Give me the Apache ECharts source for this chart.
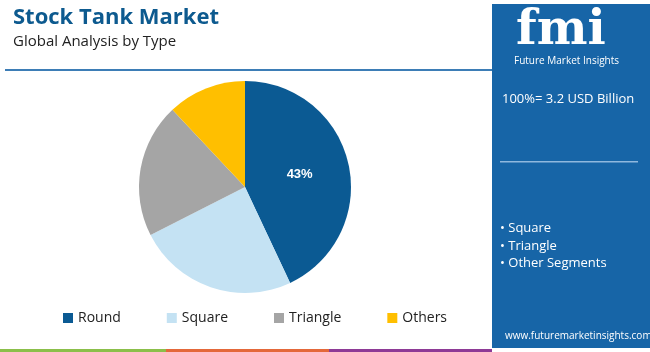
<!DOCTYPE html>
<html>
<head>
<meta charset="utf-8">
<script src="https://cdn.jsdelivr.net/npm/echarts@6/dist/echarts.min.js"></script>
<style>
  html, body { margin: 0; padding: 0; background: #fff; }
  #chart { width: 650px; height: 352px; }
</style>
</head>
<body>
<div id="chart"></div>
<script>
// 数据
var categories = ['Round', 'Square', 'Triangle', 'Others'];
var shares = [43, 24.5, 20.5, 12];
var colors = ['#0b5a93', '#c4e2f3', '#a5a5a5', '#ffbf00'];
var bullets = ['• Square', '• Triangle', '• Other Segments'];

var font = 'Open Sans';
var chart = echarts.init(document.getElementById('chart'));

var pieData = categories.map(function (name, i) {
    return {
        name: name,
        value: shares[i],
        itemStyle: {color: colors[i]},
        label: {show: i === 0}
    };
});

var option = {
    animation: false,
    title: {
        text: 'Stock Tank Market',
        subtext: 'Global Analysis by Type',
        left: 8,
        top: 2,
        itemGap: 5,
        textStyle: {fontFamily: font, fontSize: 22, fontWeight: 'bold', color: '#0d5a8f'},
        subtextStyle: {fontFamily: font, fontSize: 15, color: '#222'}
    },
    legend: {
        data: categories,
        left: 58,
        top: 306,
        itemWidth: 10,
        itemHeight: 10,
        itemGap: 46,
        icon: 'rect',
        textStyle: {fontFamily: font, fontSize: 14, color: '#222'}
    },
    series: [{
        type: 'pie',
        center: [245, 187],
        radius: 106,
        startAngle: 90,
        clockwise: true,
        label: {
            position: 'inside',
            formatter: '{d}%',
            color: '#fff',
            fontFamily: 'Liberation Sans',
            fontWeight: 'bold',
            fontSize: 13
        },
        labelLine: {show: false},
        emphasis: {disabled: true},
        data: pieData
    }],
    graphic: [
        // 标题下划线
        {type: 'rect', shape: {x: 5, y: 69, width: 487, height: 2}, style: {fill: '#3d7db6'}},
        // 右侧面板
        {type: 'rect', shape: {x: 492, y: 4, width: 158, height: 344}, style: {fill: '#1765a7'}},
        {type: 'text', left: 516, top: 8, style: {text: 'fmi', fontFamily: 'DejaVu Serif', fontSize: 48, fontWeight: 'bold', fill: '#fff'}},
        {type: 'text', left: 514, top: 56, style: {text: 'Future Market Insights', fontFamily: font, fontSize: 10, fill: '#fff'}},
        {type: 'text', left: 502, top: 93, style: {text: '100%= 3.2 USD Billion', fontFamily: font, fontSize: 13, fill: '#fff'}},
        {type: 'rect', shape: {x: 500, y: 161, width: 138, height: 1.5}, style: {fill: '#8fb8de'}},
        {type: 'text', left: 500, top: 220, style: {text: bullets.join('\n'), fontFamily: font, fontSize: 13, lineHeight: 17.5, fill: '#fff'}},
        {type: 'text', left: 505, top: 331, style: {text: 'www.futuremarketinsights.com', fontFamily: font, fontSize: 10, fill: '#fff'}},
        // 底部色条
        {type: 'rect', shape: {x: 0, y: 349, width: 166, height: 3}, style: {fill: '#8bbf4a'}},
        {type: 'rect', shape: {x: 166, y: 349, width: 163, height: 3}, style: {fill: '#e4683a'}},
        {type: 'rect', shape: {x: 329, y: 349, width: 163, height: 3}, style: {fill: '#8e3a96'}}
    ]
};

chart.setOption(option);
</script>
</body>
</html>
